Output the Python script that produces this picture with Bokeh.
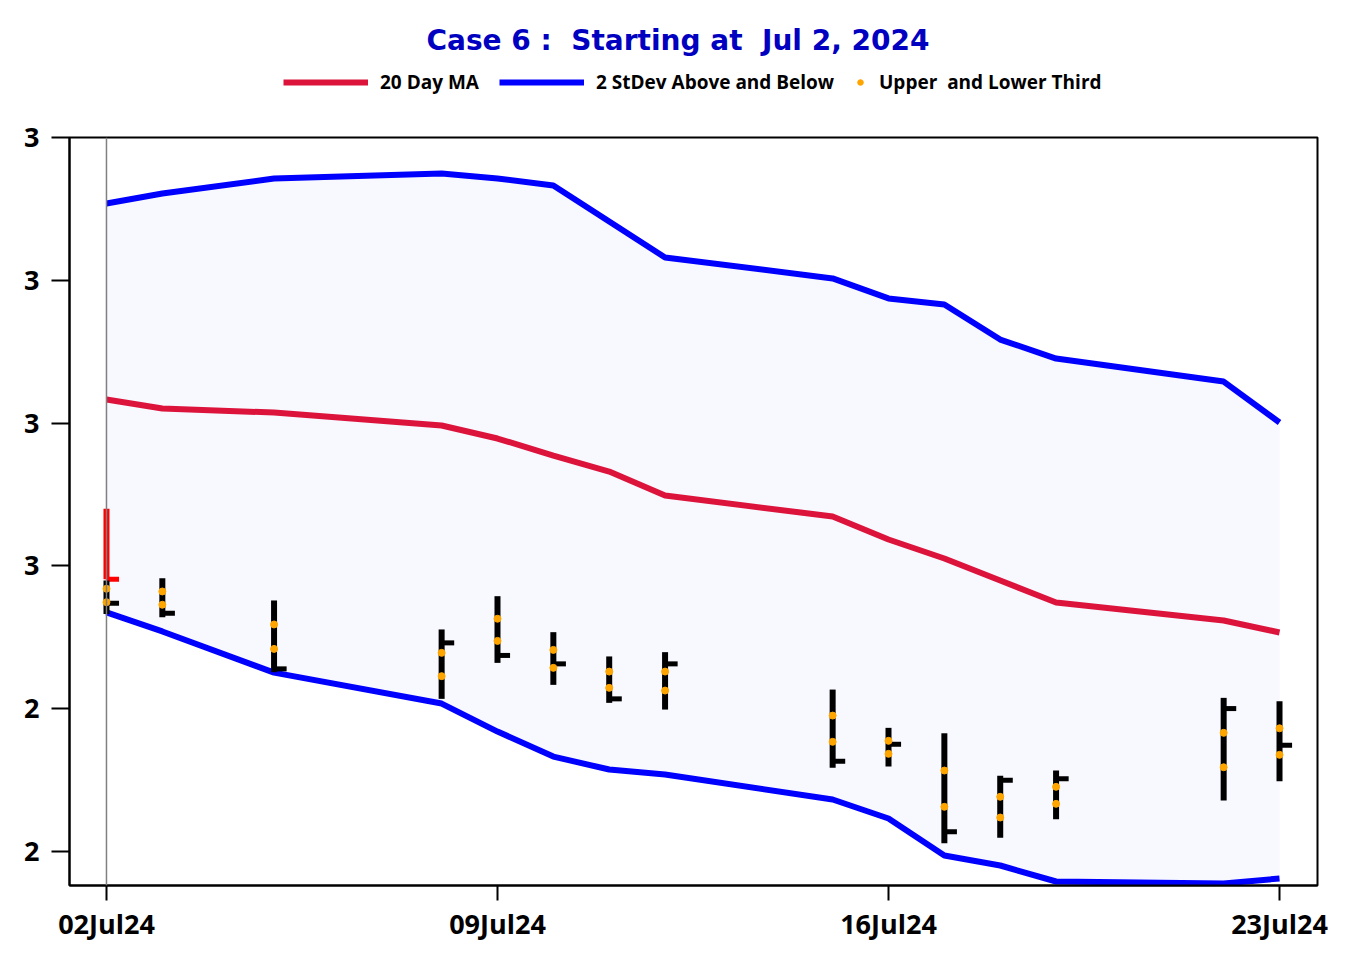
import pandas as pd
from bokeh.plotting import figure
from bokeh.layouts import column
from bokeh.models import (FixedTicker, DatetimeTickFormatter, Legend, LegendItem,
                          Span, ColumnDataSource, Range1d, Title)
from bokeh.embed import file_html
from bokeh.resources import INLINE

# ---------------- data ----------------
dates = ["2024-07-02", "2024-07-03", "2024-07-05", "2024-07-08", "2024-07-09",
         "2024-07-10", "2024-07-11", "2024-07-12", "2024-07-15", "2024-07-16",
         "2024-07-17", "2024-07-18", "2024-07-19", "2024-07-22", "2024-07-23"]
ma20 = [2.7165, 2.7102, 2.7074, 2.6983, 2.6892, 2.6773, 2.6661, 2.6493, 2.6346,
        2.6185, 2.6052, 2.5898, 2.5744, 2.5618, 2.5534]
upper_band = [2.8538, 2.8608, 2.8713, 2.8748, 2.8713, 2.8664, 2.8412, 2.8160,
              2.8013, 2.7873, 2.7831, 2.7585, 2.7452, 2.7291, 2.7004]
lower_band = [2.5674, 2.5541, 2.5253, 2.5036, 2.4840, 2.4665, 2.4574, 2.4539,
              2.4364, 2.4231, 2.3972, 2.3902, 2.3790, 2.3776, 2.3811]
high = [2.5898, 2.5914, 2.5758, 2.5555, 2.5788, 2.5536, 2.5366, 2.5396, 2.5134,
        2.4866, 2.4828, 2.4530, 2.4567, 2.5076, 2.5052]
low = [2.5664, 2.5641, 2.5256, 2.5069, 2.5321, 2.5167, 2.5041, 2.4994, 2.4586,
       2.4595, 2.4058, 2.4096, 2.4226, 2.4357, 2.4492]
close = [2.5739, 2.5669, 2.5279, 2.5461, 2.5373, 2.5314, 2.5069, 2.5314, 2.4632,
         2.4751, 2.4138, 2.4499, 2.4509, 2.5001, 2.4744]
upper_third = [2.5840, 2.5821, 2.5590, 2.5391, 2.5630, 2.5412, 2.5260, 2.5260,
               2.4952, 2.4775, 2.4567, 2.4383, 2.4453, 2.4831, 2.4863]
lower_third = [2.5746, 2.5728, 2.5419, 2.5228, 2.5475, 2.5286, 2.5146, 2.5127,
               2.4768, 2.4684, 2.4313, 2.4238, 2.4334, 2.4590, 2.4677]
signal_dates = ["2024-07-02"]
signal_high = [2.6400]
signal_low = [2.5907]
signal_close = [2.5907]

y_ticks = [2.4, 2.5, 2.6, 2.7, 2.8, 2.9]
y_tick_labels = ["2", "2", "3", "3", "3", "3"]
x_tick_dates = ["2024-07-02", "2024-07-09", "2024-07-16", "2024-07-23"]

title_text = "Case 6 :\u00a0 Starting at\u00a0 Jul 2, 2024"
legend_labels = ["20 Day MA", "2 StDev Above and Below", "Upper\u00a0 and Lower Third"]

MA_STYLE = dict(line_color="#DC143C", line_width=6)
BAND_STYLE = dict(line_color="#0000FF", line_width=6)
DOT_STYLE = dict(size=7, color="#FFA500")

# ---------------- main chart ----------------
dt = pd.to_datetime(dates)
tick_len = pd.Timedelta(hours=5.4)

src = ColumnDataSource(dict(x=dt, ma=ma20, up=upper_band, lo=lower_band,
                            high=high, low=low, close=close,
                            close_end=dt + tick_len,
                            ut=upper_third, lt=lower_third))
sdt = pd.to_datetime(signal_dates)
ssrc = ColumnDataSource(dict(x=sdt, high=signal_high, low=signal_low,
                             close=signal_close, close_end=sdt + tick_len))

x_start = dt[0] - pd.Timedelta(days=0.662)
x_end = dt[-1] + pd.Timedelta(days=0.68)

p = figure(frame_width=1248, frame_height=748,
           x_axis_type="datetime", output_backend="svg", toolbar_location=None,
           x_range=Range1d(x_start, x_end), y_range=Range1d(2.3762, 2.9),
           min_border_left=69, min_border_right=25, min_border_bottom=82,
           min_border_top=20)
p.title_location = None

p.grid.visible = False
p.background_fill_color = "white"
p.border_fill_color = "white"
p.outline_line_color = "black"
p.outline_line_width = 2

p.varea(x="x", y1="lo", y2="up", source=src, fill_color="#F8F8FF")
p.add_layout(Span(location=dt[0], dimension="height", line_color="#808080",
                  line_width=1.5))

p.line("x", "ma", source=src, **MA_STYLE)
p.line("x", "up", source=src, **BAND_STYLE)
p.line("x", "lo", source=src, **BAND_STYLE)

p.segment(x0="x", y0="low", x1="x", y1="high", source=ssrc, line_color="#FF0000",
          line_width=6)
p.segment(x0="x", y0="close", x1="close_end", y1="close", source=ssrc,
          line_color="#FF0000", line_width=5)

p.segment(x0="x", y0="low", x1="x", y1="high", source=src, line_color="black",
          line_width=6)
p.segment(x0="x", y0="close", x1="close_end", y1="close", source=src,
          line_color="black", line_width=5)

p.scatter("x", "ut", source=src, **DOT_STYLE)
p.scatter("x", "lt", source=src, **DOT_STYLE)

xa = p.xaxis[0]
xa.ticker = FixedTicker(ticks=[pd.Timestamp(d).value / 1e6 for d in x_tick_dates])
xa.formatter = DatetimeTickFormatter(days="%d%b%y", months="%d%b%y", hours="%d%b%y")
xa.major_label_text_font = "Open Sans"
xa.major_label_text_font_style = "bold"
xa.major_label_text_font_size = "27px"
xa.major_label_text_color = "black"
xa.major_tick_out = 15
xa.major_tick_in = 0
xa.major_tick_line_width = 2
xa.minor_tick_line_color = None
xa.axis_line_width = 2
xa.major_label_standoff = 4

ya = p.yaxis[0]
ya.ticker = FixedTicker(ticks=y_ticks)
ya.major_label_overrides = {t: s for t, s in zip(y_ticks, y_tick_labels)}
ya.major_label_text_font = "Open Sans"
ya.major_label_text_font_style = "bold"
ya.major_label_text_font_size = "27px"
ya.major_label_text_color = "black"
ya.major_tick_out = 18
ya.major_tick_in = 0
ya.major_tick_line_width = 2
ya.minor_tick_line_color = None
ya.axis_line_width = 2
ya.major_label_standoff = 12

# ---------------- header: title + legend ----------------
head = figure(width=1342, height=117, output_backend="svg", toolbar_location=None,
              x_range=Range1d(0, 1), y_range=Range1d(0, 1),
              x_axis_location=None, y_axis_location=None,
              min_border_left=69, min_border_right=25, min_border_top=0,
              min_border_bottom=0)
head.grid.visible = False
head.outline_line_color = None
head.border_fill_color = "white"
head.background_fill_color = "white"

# legend proxies (kept outside the header's visible range)
proxy = ColumnDataSource(dict(x=[-5.0, -4.0], y=[-5.0, -4.0]))
ma_r = head.line("x", "y", source=proxy, **MA_STYLE)
band_r = head.line("x", "y", source=proxy, **BAND_STYLE)
dots_r = head.scatter("x", "y", source=proxy, **DOT_STYLE)

common = dict(orientation="horizontal", glyph_height=24, label_standoff=12,
              spacing=20, padding=0, margin=0,
              label_text_font="Open Sans", label_text_font_style="bold",
              label_text_font_size="19px", label_text_color="black",
              border_line_color=None, background_fill_alpha=0)
legend1 = Legend(items=[LegendItem(label=legend_labels[0], renderers=[ma_r]),
                        LegendItem(label=legend_labels[1], renderers=[band_r])],
                 location=(214, 22), glyph_width=85, **common)
legend2 = Legend(items=[LegendItem(label=legend_labels[2], renderers=[dots_r])],
                 location=(784, 22), glyph_width=14, **common)
head.add_layout(legend1)
head.add_layout(legend2)

head.add_layout(Title(text=title_text, text_font="DejaVu Sans", text_font_size="28px",
                      text_font_style="bold", text_color="#0000C0", align="left",
                      offset=357, standoff=0), "above")
# outer spacer above the title (plot's own title slot)
head.title.text = "\u00a0"
head.title.text_font_size = "17px"
head.title.text_color = "white"
head.title.standoff = 0

layout = column(head, p, spacing=0)
open("out.html", "w").write(file_html(layout, INLINE))
